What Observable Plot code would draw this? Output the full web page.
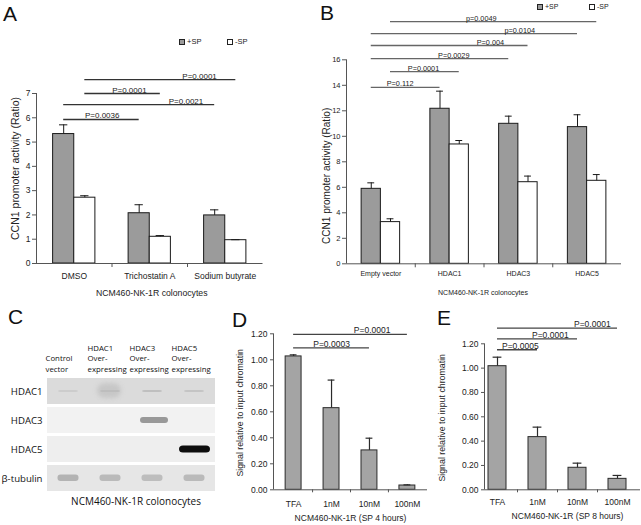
<!DOCTYPE html>
<html><head><meta charset="utf-8">
<script src="https://cdn.jsdelivr.net/npm/d3@7"></script>
<script src="https://cdn.jsdelivr.net/npm/@observablehq/plot@0.6"></script>
<style>
body{margin:0;background:#fff;}
#fig{position:relative;width:641px;height:525px;overflow:hidden;background:#fff;font-family:"Liberation Sans",Arial,sans-serif;color:#111;}
.panel{position:absolute;}
.letter{position:absolute;font-size:21px;line-height:1;}
.lg{position:absolute;display:flex;align-items:center;gap:2px;color:#222;line-height:1;}
.sw{display:inline-block;width:4px;height:4px;border:1px solid #222;}
</style></head><body>
<div id="fig">
  <div class="letter" style="left:3px;top:3px">A</div>
  <div class="letter" style="left:320px;top:2px">B</div>
  <div class="letter" style="left:8px;top:306px">C</div>
  <div class="letter" style="left:232px;top:309px">D</div>
  <div class="letter" style="left:437px;top:307px">E</div>
  <div class="panel" id="pA" style="left:0;top:0"></div>
  <div class="panel" id="pB" style="left:320px;top:0"></div>
  <div class="panel" id="pC" style="left:0;top:300px"></div>
  <div class="panel" id="pD" style="left:232px;top:300px"></div>
  <div class="panel" id="pE" style="left:440px;top:300px"></div>
  <div id="legA"></div>
  <div id="legB"></div>
</div>
<script>
// ---------- DATA ----------
const seriesNames = ["+SP", "-SP"];

// Panel A
const aCategories = ["DMSO", "Trichostatin A", "Sodium butyrate"];
const aPlusSP = [5.33, 2.07, 1.98];
const aPlusErr = [0.38, 0.35, 0.23];
const aMinusSP = [2.71, 1.10, 0.96];
const aMinusErr = [0.08, 0.05, 0.02];
const aTicks = [0, 1, 2, 3, 4, 5, 6, 7];
const aComparisons = [
  {from: [0, "+SP"], to: [1, "+SP"], label: "P=0.0036", level: 5.93, t: 0.51},
  {from: [0, "+SP"], to: [2, "+SP"], label: "P=0.0021", level: 6.54, t: 0.81},
  {from: [0, "-SP"], to: [1, "-SP"], label: "P=0.0001", level: 7.0, t: 0.59},
  {from: [0, "-SP"], to: [2, "-SP"], label: "P=0.0001", level: 7.57, t: 0.76}
];

// Panel B
const bCategories = ["Empty vector", "HDAC1", "HDAC3", "HDAC5"];
const bPlusSP = [5.88, 12.16, 10.98, 10.72];
const bPlusErr = [0.47, 1.38, 0.60, 0.97];
const bMinusSP = [3.27, 9.36, 6.40, 6.51];
const bMinusErr = [0.26, 0.31, 0.48, 0.49];
const bTicks = [0, 2, 4, 6, 8, 10, 12, 14, 16];
const bComparisons = [
  {from: [0, "+SP"], to: [1, "+SP"], label: "P=0.112", level: 13.83, t: 0.42},
  {from: [0, "-SP"], to: [1, "-SP"], label: "P=0.0001", level: 15.08, t: 0.48},
  {from: [0, "+SP"], to: [2, "+SP"], label: "P=0.0029", level: 16.1, t: 0.60},
  {from: [0, "+SP"], to: [2, "-SP"], label: "P=0.004", level: 17.12, t: 0.76},
  {from: [0, "+SP"], to: [3, "+SP"], label: "p=0.0104", level: 18.06, t: 0.72},
  {from: [0, "-SP"], to: [3, "-SP"], label: "p=0.0049", level: 19.0, t: 0.44}
];

// Panel C (western blot band darkness, 0 = white, 1 = black)
const blotLanes = ["Control\nvector", "HDAC1\nOver-\nexpressing", "HDAC3\nOver-\nexpressing", "HDAC5\nOver-\nexpressing"];
const blotRows = ["HDAC1", "HDAC3", "HDAC5", "β-tubulin"];
const blotBackground = [0.14, 0.05, 0.065, 0.10];
const blotBands = [
  [0.20, 0.26, 0.25, 0.23],
  [0.00, 0.00, 0.40, 0.00],
  [0.00, 0.00, 0.00, 0.95],
  [0.30, 0.27, 0.26, 0.27]
];
const blotHalo = [{row: "HDAC1", lane: 1, darkness: 0.22}];

// Panel D
const dCategories = ["TFA", "1nM", "10nM", "100nM"];
const dValues = [1.026, 0.628, 0.303, 0.033];
const dErr = [0.012, 0.216, 0.094, 0.005];
const dComparisons = [
  {from: 0, to: 2, label: "P=0.0003", level: 1.092, t: 0.50},
  {from: 0, to: 3, label: "P=0.0001", level: 1.195, t: 0.69}
];

// Panel E
const eCategories = ["TFA", "1nM", "10nM", "100nM"];
const eValues = [1.016, 0.433, 0.181, 0.090];
const eErr = [0.074, 0.082, 0.038, 0.028];
const eComparisons = [
  {from: 0, to: 1, label: "P=0.0005", level: 1.151, t: 0.57},
  {from: 0, to: 2, label: "P=0.0001", level: 1.241, t: 0.66},
  {from: 0, to: 3, label: "P=0.0001", level: 1.329, t: 0.79}
];
const ddTicks = [0, 0.2, 0.4, 0.6, 0.8, 1.0, 1.2];

// ---------- STYLE ----------
const FONT = "Liberation Sans, Arial, sans-serif";
const GRAY_BAR = "#9b9b9b";
const baseStyle = {fontFamily: FONT, background: "transparent", overflow: "visible", color: "#222"};
const gray = t => d3.interpolateRgb("#ffffff", "#000000")(t);

function grouped(el, o) {
  const BAR = 0.28;
  const center = (i, s) => i + (s === "+SP" ? -BAR / 2 : BAR / 2);
  const rows = o.cats.flatMap((c, i) => [
    {i, s: "+SP", v: o.plus[i], e: o.plusErr[i]},
    {i, s: "-SP", v: o.minus[i], e: o.minusErr[i]}
  ]);
  const cx = d => center(d.i, d.s);
  const xa = d => center(d.from[0], d.from[1]);
  const xb = d => center(d.to[0], d.to[1]);
  const n = o.cats.length;
  const plot = Plot.plot({
    width: o.width, height: o.height,
    marginLeft: o.ml, marginRight: o.mr, marginTop: o.mt, marginBottom: o.mb,
    x: {domain: [-0.5, n - 0.5], axis: null},
    y: {domain: o.yDomain, axis: null},
    color: {type: "identity"},
    style: baseStyle,
    marks: [
      Plot.rect(rows, {x1: d => cx(d) - BAR / 2, x2: d => cx(d) + BAR / 2, y1: 0, y2: "v",
        fill: d => d.s === "+SP" ? GRAY_BAR : "#ffffff", stroke: "#1a1a1a", strokeWidth: 1}),
      Plot.ruleX(rows, {x: cx, y1: "v", y2: d => d.v + d.e, stroke: "#1a1a1a", strokeWidth: 1}),
      Plot.ruleY(rows, {y: d => d.v + d.e, x1: d => cx(d) - o.cap, x2: d => cx(d) + o.cap, stroke: "#1a1a1a", strokeWidth: 1}),
      Plot.ruleX([-0.5], {stroke: "#555"}),
      Plot.ruleY([0], {stroke: "#555"}),
      Plot.axisY(o.yTicks, {label: null, tickSize: 4, tickPadding: 2, fontSize: o.tickFont, stroke: "#555"}),
      Plot.axisX(d3.range(n), {label: null, tickSize: 0, tickPadding: o.catPad, fontSize: o.catFont, tickFormat: i => o.cats[i]}),
      Plot.axisX(d3.range(n - 1).map(i => i + 0.5), {label: null, tickSize: 4, tickFormat: () => "", stroke: "#555"}),
      Plot.ruleY(o.comps, {y: "level", x1: xa, x2: xb, stroke: o.lineColor, strokeWidth: 1.3}),
      Plot.text(o.comps, {x: d => xa(d) + d.t * (xb(d) - xa(d)), y: "level", text: "label",
        lineAnchor: "bottom", dy: -1, fontSize: o.pFont, fill: "#222"}),
      Plot.text([o.yLabel], {frameAnchor: "left", rotate: -90, textAnchor: "middle", lineAnchor: "middle",
        dx: o.yLabelDx, dy: o.yLabelDy, fontSize: o.yLabelFont}),
      Plot.text([o.title], {frameAnchor: "bottom", textAnchor: "middle", lineAnchor: "middle",
        dy: o.titleDy, dx: o.titleDx, fontSize: o.titleFont})
    ]
  });
  document.getElementById(el).append(plot);
}

grouped("pA", {
  cats: aCategories, plus: aPlusSP, plusErr: aPlusErr, minus: aMinusSP, minusErr: aMinusErr,
  comps: aComparisons, yTicks: aTicks, yDomain: [0, 7],
  width: 320, height: 300, ml: 36, mr: 57.5, mt: 93, mb: 37,
  cap: 0.055, tickFont: 8.5, catFont: 8.5, catPad: 9, pFont: 8, lineColor: "#333",
  yLabel: "CCN1 promoter activity (Ratio)", yLabelDx: -21, yLabelDy: -10, yLabelFont: 10.5,
  title: "NCM460-NK-1R colonocytes", titleDy: 30, titleDx: 2, titleFont: 8.7
});

grouped("pB", {
  cats: bCategories, plus: bPlusSP, plusErr: bPlusErr, minus: bMinusSP, minusErr: bMinusErr,
  comps: bComparisons, yTicks: bTicks, yDomain: [0, 16],
  width: 321, height: 300, ml: 26, mr: 20, mt: 59.3, mb: 36.7,
  cap: 0.05, tickFont: 7.5, catFont: 7, catPad: 7, pFont: 7.3, lineColor: "#666",
  yLabel: "CCN1 promoter activity (Ratio)", yLabelDx: -20, yLabelDy: 14, yLabelFont: 10,
  title: "NCM460-NK-1R colonocytes", titleDy: 29, titleDx: -1, titleFont: 7
});

// Panel C: blot drawn as cells
(function () {
  const cells = blotRows.flatMap((r, ri) => blotLanes.map((l, li) => ({
    row: r, lane: l, bg: blotBackground[ri], band: blotBands[ri][li]
  })));
  const bandShape = {
    "HDAC1": {l: 11, r: 11, t: 12, b: 12, rx: 3},
    "HDAC3": {l: 9, r: 5, t: 10, b: 10, rx: 3},
    "HDAC5": {l: 6, r: 5, t: 9.5, b: 9.5, rx: 4},
    "β-tubulin": {l: 10.5, r: 10.5, t: 9.5, b: 10, rx: 3}
  };
  const plot = Plot.plot({
    width: 232, height: 225, marginLeft: 45, marginRight: 16, marginTop: 77, marginBottom: 33,
    x: {domain: blotLanes, padding: 0, axis: null},
    y: {domain: blotRows, paddingInner: 0.1, paddingOuter: 0, axis: null},
    color: {type: "identity"},
    style: {...baseStyle, fontFamily: "Open Sans, sans-serif"},
    marks: [
      Plot.cell(cells, {x: "lane", y: "row", fill: d => gray(d.bg)}),
      Plot.cell(blotHalo, {x: d => blotLanes[d.lane], y: "row", fill: d => gray(d.darkness),
        insetLeft: 8, insetRight: 10, insetTop: 5, insetBottom: 6, rx: 8, imageFilter: "blur(2px)"}),
      ...blotRows.map(r => {
        const s = bandShape[r];
        return Plot.cell(cells.filter(d => d.row === r && d.band > 0), {
          x: "lane", y: "row", fill: d => gray(d.band),
          insetLeft: s.l, insetRight: s.r, insetTop: s.t, insetBottom: s.b, rx: s.rx, imageFilter: "blur(0.6px)"
        });
      }),
      Plot.axisY({label: null, tickSize: 0, tickPadding: 3, fontSize: 9.6, fill: "#111"}),
      Plot.text(blotLanes, {x: d => d, frameAnchor: "top", text: d => d, textAnchor: "start",
        lineAnchor: "bottom", dx: -23, dy: -6, fontSize: 7.8, lineHeight: 1.3, fill: "#111"}),
      Plot.text(["NCM460-NK-1R colonocytes"], {frameAnchor: "bottom", textAnchor: "middle",
        lineAnchor: "middle", dy: 9, dx: 5, fontSize: 10, fill: "#111"})
    ]
  });
  document.getElementById("pC").append(plot);
})();

function single(el, o) {
  const rows = o.cats.map((c, i) => ({i, v: o.values[i], e: o.err[i]}));
  const n = o.cats.length;
  const plot = Plot.plot({
    width: o.width, height: o.height,
    marginLeft: o.ml, marginRight: o.mr, marginTop: o.mt, marginBottom: o.mb,
    x: {domain: o.xDomain, axis: null},
    y: {domain: [0, 1.2], axis: null},
    style: baseStyle,
    marks: [
      Plot.rect(rows, {x1: d => d.i - o.half, x2: d => d.i + o.half, y1: 0, y2: "v",
        fill: "#a4a4a4", stroke: "#2a2a2a", strokeWidth: 1}),
      Plot.ruleX(rows, {x: "i", y1: "v", y2: d => d.v + d.e, stroke: "#2a2a2a", strokeWidth: 1.2}),
      Plot.ruleY(rows, {y: d => d.v + d.e, x1: d => d.i - o.cap, x2: d => d.i + o.cap, stroke: "#2a2a2a", strokeWidth: 1.2}),
      Plot.ruleX([o.xDomain[0]], {stroke: "#555"}),
      Plot.ruleY([0], {stroke: "#555"}),
      Plot.axisY(ddTicks, {label: null, tickSize: 3, tickPadding: 3, fontSize: 8.5, tickFormat: d3.format(".2f"), stroke: "#555"}),
      Plot.axisX(d3.range(n), {label: null, tickSize: 0, tickPadding: o.catPad, fontSize: 8.5, tickFormat: i => o.cats[i]}),
      Plot.axisX(d3.range(n - 1).map(i => i + 0.5), {label: null, tickSize: 3, tickFormat: () => "", stroke: "#555"}),
      Plot.ruleY(o.comps, {y: "level", x1: "from", x2: "to", stroke: "#444", strokeWidth: 1.3}),
      Plot.text(o.comps, {x: d => d.from + d.t * (d.to - d.from), y: "level", text: "label",
        lineAnchor: "bottom", dy: -1, fontSize: 8.5, fill: "#222"}),
      Plot.text(["Signal relative to input chromatin"], {frameAnchor: "left", rotate: -90, textAnchor: "middle",
        lineAnchor: "middle", dx: o.yLabelDx, dy: 1, fontSize: 8.8}),
      Plot.text([o.title], {frameAnchor: "bottom", textAnchor: "middle", lineAnchor: "middle",
        dy: o.titleDy, dx: o.titleDx, fontSize: 8.5})
    ]
  });
  document.getElementById(el).append(plot);
}

single("pD", {
  cats: dCategories, values: dValues, err: dErr, comps: dComparisons,
  width: 208, height: 225, ml: 41, mr: 13, mt: 33.3, mb: 35.7, xDomain: [-0.53, 3.53],
  half: 0.21, cap: 0.09, catPad: 11, yLabelDx: -33, title: "NCM460-NK-1R (SP 4 hours)", titleDy: 28.7, titleDx: 0
});
single("pE", {
  cats: eCategories, values: eValues, err: eErr, comps: eComparisons,
  width: 201, height: 225, ml: 44, mr: 1, mt: 43.3, mb: 35.7, xDomain: [-0.325, 3.575],
  half: 0.225, cap: 0.11, catPad: 9, yLabelDx: -42, title: "NCM460-NK-1R (SP 8 hours)", titleDy: 26.7, titleDx: 5
});

// Legends (HTML, above the charts)
function legend(id, items, font) {
  const host = document.getElementById(id);
  items.forEach(it => {
    const div = document.createElement("div");
    div.className = "lg";
    div.style.left = it.left + "px";
    div.style.top = it.top + "px";
    div.style.fontSize = font + "px";
    const sw = document.createElement("span");
    sw.className = "sw";
    sw.style.background = it.name === "+SP" ? GRAY_BAR : "#fff";
    div.append(sw, document.createTextNode(it.name));
    host.append(div);
  });
}
legend("legA", [{name: seriesNames[0], left: 179, top: 38}, {name: seriesNames[1], left: 227, top: 38}], 7.5);
legend("legB", [{name: seriesNames[0], left: 537, top: 3}, {name: seriesNames[1], left: 589, top: 3}], 7);
</script>
</body></html>
